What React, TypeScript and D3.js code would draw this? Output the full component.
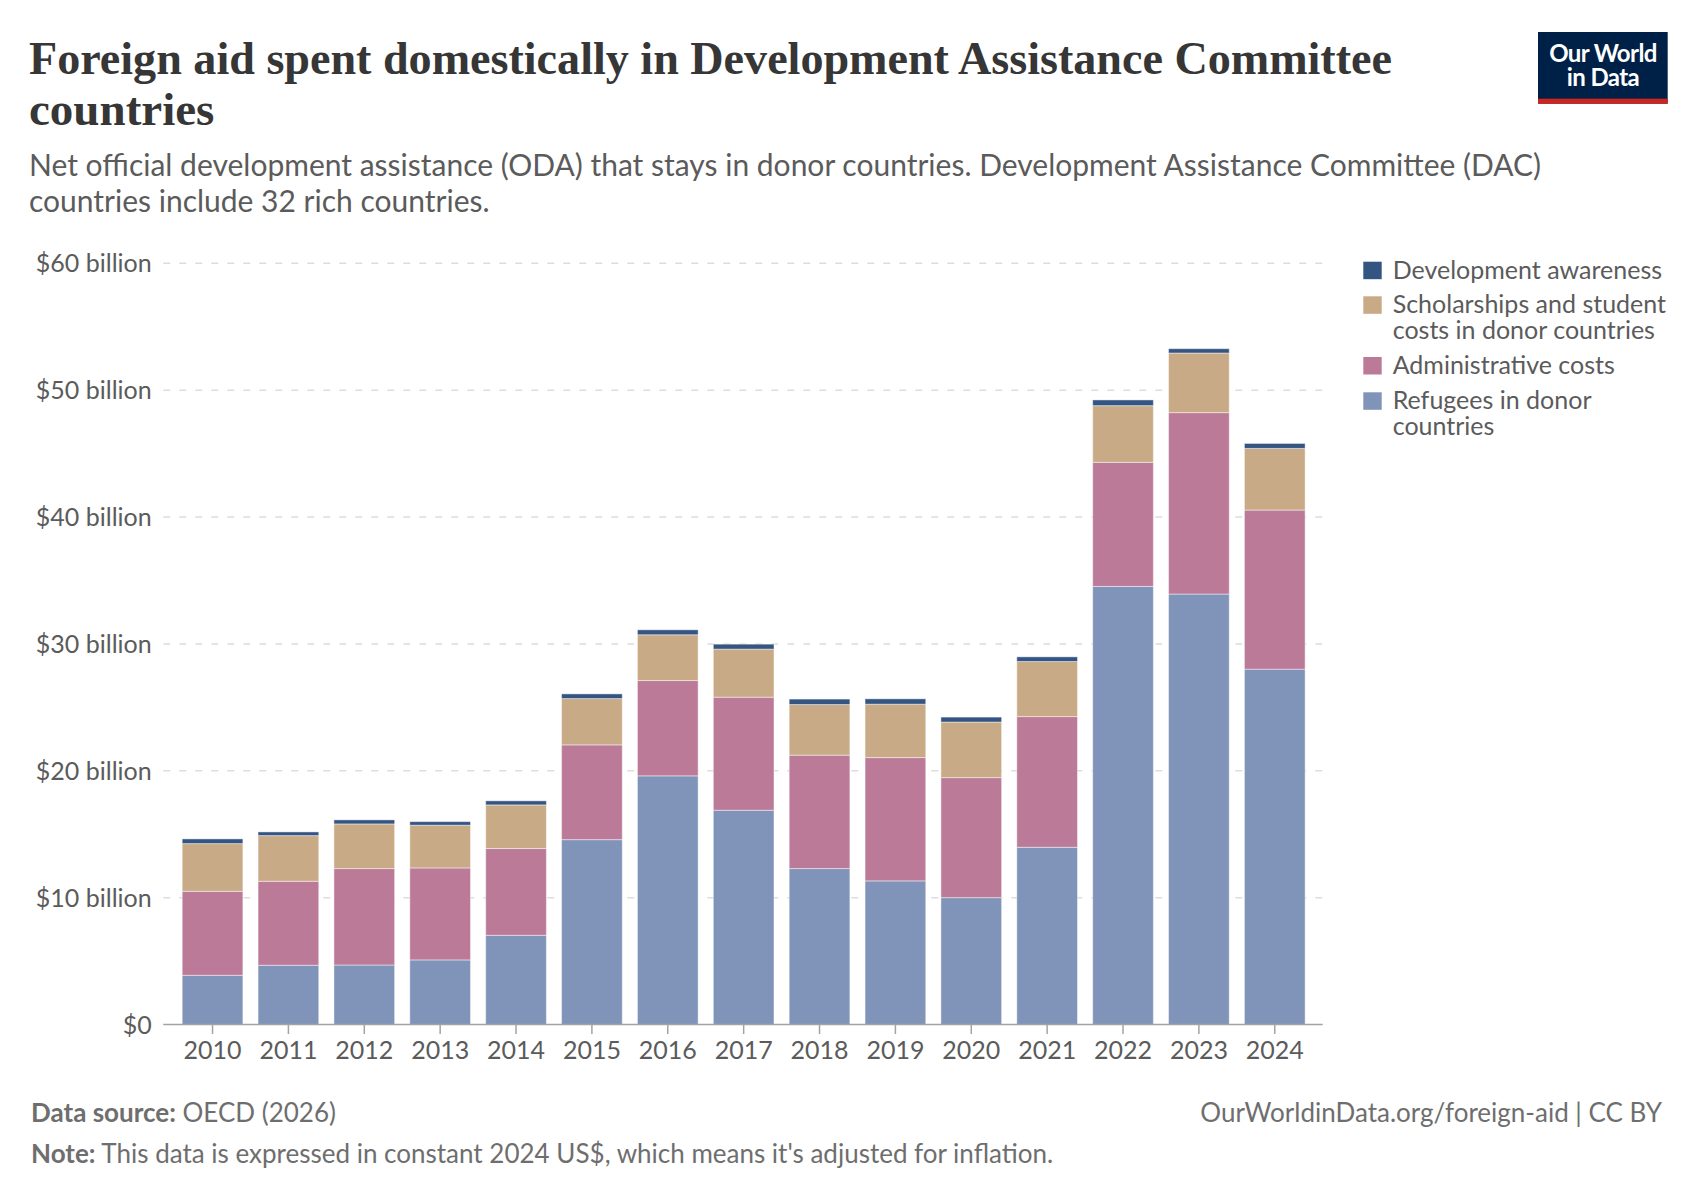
import * as d3 from "d3"

const years = ["2010", "2011", "2012", "2013", "2014", "2015", "2016", "2017", "2018", "2019", "2020", "2021", "2022", "2023", "2024"]

// billions of constant 2024 US$
const refugees = [3.88, 4.67, 4.69, 5.09, 7.03, 14.57, 19.6, 16.89, 12.29, 11.32, 10.0, 13.97, 34.53, 33.93, 28.01]
const adminCosts = [6.62, 6.62, 7.6, 7.25, 6.84, 7.47, 7.51, 8.91, 8.94, 9.72, 9.46, 10.3, 9.78, 14.3, 12.54]
const scholarships = [3.76, 3.6, 3.52, 3.37, 3.44, 3.65, 3.61, 3.79, 3.99, 4.21, 4.38, 4.34, 4.47, 4.7, 4.86]
const awareness = [0.37, 0.29, 0.32, 0.28, 0.32, 0.37, 0.39, 0.39, 0.43, 0.42, 0.39, 0.37, 0.45, 0.34, 0.39]

const yTicks = [0, 10, 20, 30, 40, 50, 60]

const seriesKeys = ["refugees", "admin", "scholarships", "awareness"]
const seriesColors: Record<string, string> = {
  refugees: "#8093b9",
  admin: "#bc7a99",
  scholarships: "#c9aa87",
  awareness: "#345482",
}

// legend top to bottom, with line breaks as in the original
const legendItems = [
  { key: "awareness", lines: ["Development awareness"] },
  { key: "scholarships", lines: ["Scholarships and student", "costs in donor countries"] },
  { key: "admin", lines: ["Administrative costs"] },
  { key: "refugees", lines: ["Refugees in donor", "countries"] },
]

const W = 1700
const H = 1200
const sans = "Lato, 'Noto Sans', sans-serif"

export default function App() {
  const rows = years.map((year, i) => ({
    year,
    refugees: refugees[i],
    admin: adminCosts[i],
    scholarships: scholarships[i],
    awareness: awareness[i],
  }))

  const stacked = d3.stack<any>().keys(seriesKeys)(rows)

  const x = d3.scaleBand().domain(years).range([174.6, 1312.7]).paddingInner(0.2).paddingOuter(0.1)
  const y = d3.scaleLinear().domain([0, 60]).range([1024.5, 263.3])

  const axisLeft = 163.3
  const axisRight = 1322.7

  return (
    <svg width={W} height={H} viewBox={`0 0 ${W} ${H}`} style={{ position: "absolute", left: 0, top: 0, background: "#fff" }}>
      <rect width={W} height={H} fill="#fff" />

      {/* title */}
      <g fontFamily="'Liberation Serif', 'DejaVu Serif', serif" fontWeight={700} fontSize={47} fill="#363636">
        <text x={29} y={74} textLength={1363} lengthAdjust="spacingAndGlyphs">
          Foreign aid spent domestically in Development Assistance Committee
        </text>
        <text x={29} y={125}>countries</text>
      </g>

      {/* subtitle */}
      <g fontFamily={sans} fontSize={30} fill="#5b5b5b">
        <text x={29} y={176}>
          Net official development assistance (ODA) that stays in donor countries. Development Assistance Committee (DAC)
        </text>
        <text x={29} y={212}>countries include 32 rich countries.</text>
      </g>

      {/* logo */}
      <g>
        <rect x={1538} y={32} width={129.7} height={71.7} fill="#002147" />
        <rect x={1538} y={98.7} width={129.7} height={5} fill="#ce261e" />
        <g fontFamily={sans} fontWeight={700} fontSize={24} fill="#fff" textAnchor="middle">
          <text x={1603} y={62} letterSpacing={-0.6}>Our World</text>
          <text x={1603} y={85.7} letterSpacing={-0.6}>in Data</text>
        </g>
      </g>

      {/* gridlines and y labels */}
      <g>
        {yTicks.map((t) => (
          <g key={t}>
            {t > 0 && (
              <line x1={axisLeft} x2={axisRight} y1={y(t)} y2={y(t)} stroke="#dddddd" strokeWidth={1.5} strokeDasharray="7,9" />
            )}
            <text x={151.7} y={y(t)} dy={9} textAnchor="end" fontFamily={sans} fontSize={25} fill="#5b5b5b">
              {t === 0 ? "$0" : `$${t} billion`}
            </text>
          </g>
        ))}
      </g>

      {/* bars */}
      <g>
        {stacked.map((layer) => (
          <g key={layer.key} fill={seriesColors[layer.key]}>
            {layer.map((d, i) => (
              <rect
                key={years[i]}
                x={x(years[i])}
                y={y(d[1])}
                width={x.bandwidth()}
                height={y(d[0]) - y(d[1])}
                stroke="#ffffff"
                strokeOpacity={0.45}
                strokeWidth={1}
              />
            ))}
          </g>
        ))}
      </g>

      {/* x axis */}
      <g>
        <line x1={axisLeft} x2={axisRight} y1={1024.5} y2={1024.5} stroke="#a3a3a3" strokeWidth={1.5} />
        {years.map((yr) => {
          const cx = (x(yr) || 0) + x.bandwidth() / 2
          return (
            <g key={yr}>
              <line x1={cx} x2={cx} y1={1025} y2={1034} stroke="#a3a3a3" strokeWidth={1.5} />
              <text x={cx} y={1059.3} textAnchor="middle" fontFamily={sans} fontSize={25} fill="#5b5b5b">
                {yr}
              </text>
            </g>
          )
        })}
      </g>

      {/* legend */}
      <g fontFamily={sans} fontSize={25} fill="#5b5b5b">
        {legendItems.map((item, i) => {
          const tops = [261.7, 296.3, 357, 392.3]
          const top = tops[i]
          return (
            <g key={item.key}>
              <rect x={1363.3} y={top} width={18.4} height={17.5} fill={seriesColors[item.key]} />
              {item.lines.map((ln, j) => (
                <text key={j} x={1392.7} y={top + 17 + j * 25.3}>
                  {ln}
                </text>
              ))}
            </g>
          )
        })}
      </g>

      {/* footer */}
      <g fontFamily={sans} fontSize={26} fill="#6e6e6e">
        <text x={31} y={1122}>
          <tspan fontWeight={700}>Data source:</tspan> OECD (2026)
        </text>
        <text x={31} y={1163}>
          <tspan fontWeight={700}>Note:</tspan> This data is expressed in constant 2024 US$, which means it's adjusted for inflation.
        </text>
        <text x={1662} y={1122} textAnchor="end">
          OurWorldinData.org/foreign-aid | CC BY
        </text>
      </g>
    </svg>
  )
}
